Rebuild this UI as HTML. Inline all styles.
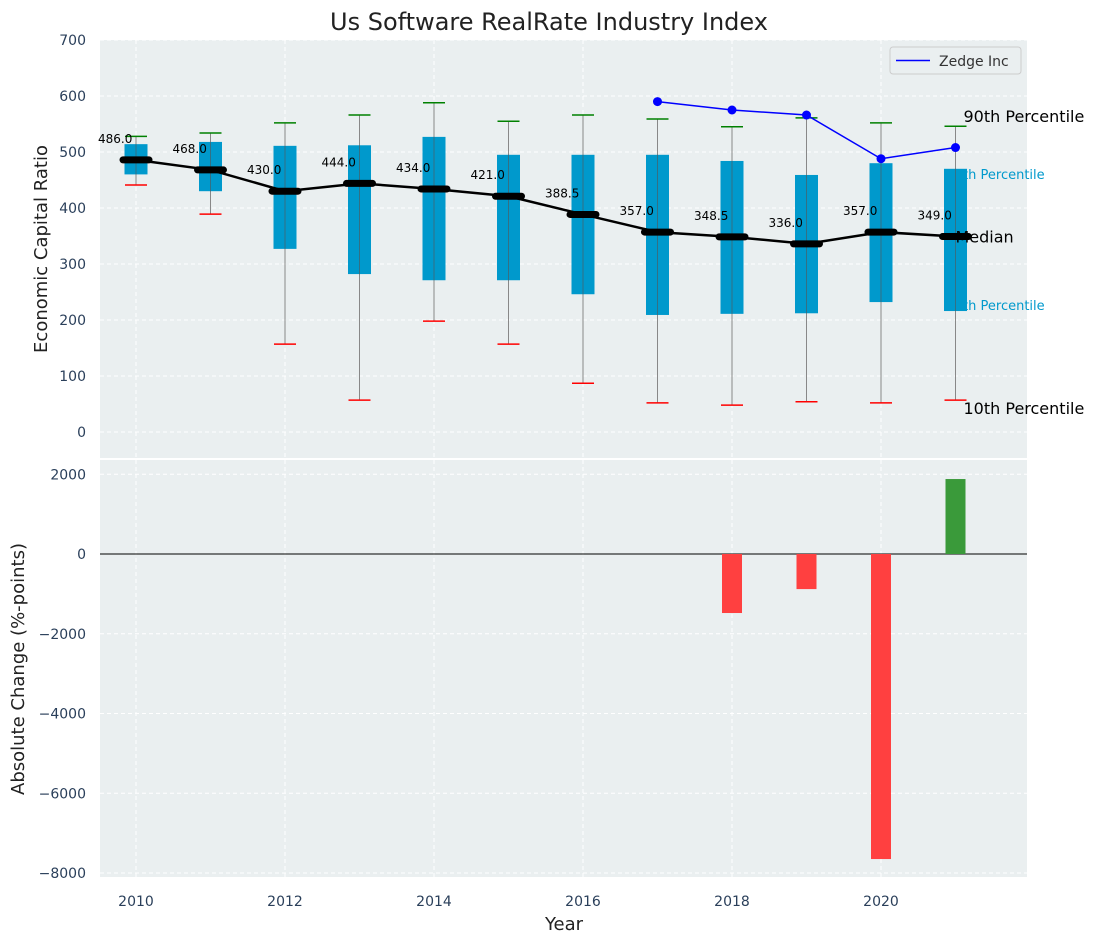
<!DOCTYPE html>
<html><head><meta charset="utf-8"><style>
body{margin:0;background:#fff;font-family:"Liberation Sans","DejaVu Sans",sans-serif}
svg text{font-family:"DejaVu Sans","Liberation Sans",sans-serif}
</style></head><body>
<svg id="c" width="1098" height="942" xmlns="http://www.w3.org/2000/svg"></svg>
<script>
const years=[2010,2011,2012,2013,2014,2015,2016,2017,2018,2019,2020,2021];
const medians=[486,468,430,444,434,421,388.5,357,348.5,336,357,349];
const q1=[460,430,327,282,271,271,246,209,211,212,232,216];
const q3=[514,518,511,512,527,495,495,495,484,459,480,470];
const p10=[441,389,157,57,198,157,87,52,48,54,52,57];
const p90=[528,534,552,566,588,555,566,559,545,561,552,546];
const zedgeYears=[2017,2018,2019,2020,2021];
const zedgeVals=[590,575,566,488,508];
const changeYears=[2018,2019,2020,2021];
const changeVals=[-1480,-880,-7650,1880];
const topTicks=[0,100,200,300,400,500,600,700];
const botTicks=[-8000,-6000,-4000,-2000,0,2000];
const xTicks=[2010,2012,2014,2016,2018,2020];

const svg=document.getElementById('c');
const NS='http://www.w3.org/2000/svg';
function el(t,a,p){const e=document.createElementNS(NS,t);for(const k in a)e.setAttribute(k,a[k]);(p||svg).appendChild(e);return e;}
const X=y=>136+(y-2010)*74.5;
const YT=v=>432-v*0.56;
const YB=v=>554-v*0.039875;
const L=100,R=1027,T1=40,B1=458,T2=460,B2=877;
const tc='#2a3f5a';

let e;
e=el('rect',{x:L,y:T1,width:R-L,height:B1-T1,fill:'#eaeff0'});

e=el('rect',{x:L,y:T2,width:R-L,height:B2-T2,fill:'#eaeff0'});


xTicks.forEach(t=>{
  el('line',{x1:X(t),x2:X(t),y1:T1,y2:B1,stroke:'#fff','stroke-dasharray':'4,3'});
  el('line',{x1:X(t),x2:X(t),y1:T2,y2:B2,stroke:'#fff','stroke-dasharray':'4,3'});
  e=el('text',{x:X(t),y:906,'text-anchor':'middle','font-size':14,fill:tc});e.textContent=t;
  
});
topTicks.forEach(t=>{
  el('line',{x1:L,x2:R,y1:YT(t),y2:YT(t),stroke:'#fff','stroke-dasharray':'4,3'});
  e=el('text',{x:86,y:YT(t)+5,'text-anchor':'end','font-size':14,fill:tc});e.textContent=t;
  
});
botTicks.forEach(t=>{
  el('line',{x1:L,x2:R,y1:YB(t),y2:YB(t),stroke:'#fff','stroke-dasharray':'4,3'});
  e=el('text',{x:86,y:YB(t)+5,'text-anchor':'end','font-size':14,fill:tc});e.textContent=(t<0?'\u2212'+(-t):t);
  
});

const last=years.length-1, xr=X(years[last]);
function lab(txt,x,y,sz,col,name){const t=el('text',{x:x,y:y,'font-size':sz,fill:col});t.textContent=txt;}
lab('90th Percentile',xr+8,YT(p90[last])-4,16,'#000','label-90th');
lab('75th Percentile',xr-9,YT(q3[last])+10,13,'#0099cc','label-75th');
lab('25th Percentile',xr-9,YT(q1[last])-1,13,'#0099cc','label-25th');
lab('10th Percentile',xr+8,YT(p10[last])+14,16,'#000','label-10th');

years.forEach((y,i)=>{
  const x=X(y);
  el('line',{x1:x,x2:x,y1:YT(p10[i]),y2:YT(p90[i]),stroke:'#888','stroke-width':1});
  e=el('rect',{x:x-11.5,y:YT(q3[i]),width:23,height:YT(q1[i])-YT(q3[i]),fill:'#0099cc'});
  
  el('line',{x1:x,x2:x,y1:YT(q1[i]),y2:YT(q3[i]),stroke:'#555','stroke-width':1,opacity:0.6});
  el('line',{x1:x-11,x2:x+11,y1:YT(p90[i]),y2:YT(p90[i]),stroke:'green','stroke-width':1.5});
  el('line',{x1:x-11,x2:x+11,y1:YT(p10[i]),y2:YT(p10[i]),stroke:'red','stroke-width':1.5});
});
e=el('polyline',{points:years.map((y,i)=>X(y)+','+YT(medians[i])).join(' '),fill:'none',stroke:'#000','stroke-width':2.5});

years.forEach((y,i)=>{
  const x=X(y);
  e=el('line',{x1:x-13,x2:x+13,y1:YT(medians[i]),y2:YT(medians[i]),stroke:'#000','stroke-width':7,'stroke-linecap':'round'});
  
  e=el('text',{x:x-38,y:YT(medians[i])-17,'font-size':12,fill:'#000'});e.textContent=medians[i].toFixed(1);
  
});
lab('Median',xr,YT(medians[last])+6,16,'#000','label-median');

e=el('polyline',{points:zedgeYears.map((y,i)=>X(y)+','+YT(zedgeVals[i])).join(' '),fill:'none',stroke:'blue','stroke-width':1.5});

zedgeYears.forEach((y,i)=>{e=el('circle',{cx:X(y),cy:YT(zedgeVals[i]),r:4.5,fill:'blue'});
  });

const lg=el('g',{});
el('rect',{x:890,y:47,width:131,height:27,rx:3,fill:'#eaeff0',stroke:'#ccc'},lg);
el('line',{x1:896,x2:930,y1:60.5,y2:60.5,stroke:'blue','stroke-width':1.5},lg);
e=el('text',{x:939,y:66,'font-size':14,fill:'#333'},lg);e.textContent='Zedge Inc';

el('line',{x1:L,x2:R,y1:YB(0),y2:YB(0),stroke:'#000','stroke-width':1});
changeYears.forEach((y,i)=>{
  const v=changeVals[i];const y0=YB(Math.max(v,0)),y1=YB(Math.min(v,0));
  e=el('rect',{x:X(y)-10,y:y0,width:20,height:y1-y0,fill:v>=0?'#3a9a3a':'#ff4040'});
  
});

e=el('text',{x:549,y:30,'text-anchor':'middle','font-size':24,fill:'#222'});e.textContent='Us Software RealRate Industry Index';

e=el('text',{x:564,y:930,'text-anchor':'middle','font-size':18,fill:'#222'});e.textContent='Year';

e=el('text',{x:0,y:0,'text-anchor':'middle','font-size':18,fill:'#222',transform:'translate(47,249) rotate(-90)'});e.textContent='Economic Capital Ratio';

e=el('text',{x:0,y:0,'text-anchor':'middle','font-size':18,fill:'#222',transform:'translate(24,669) rotate(-90)'});e.textContent='Absolute Change (%-points)';

</script>
</body></html>
